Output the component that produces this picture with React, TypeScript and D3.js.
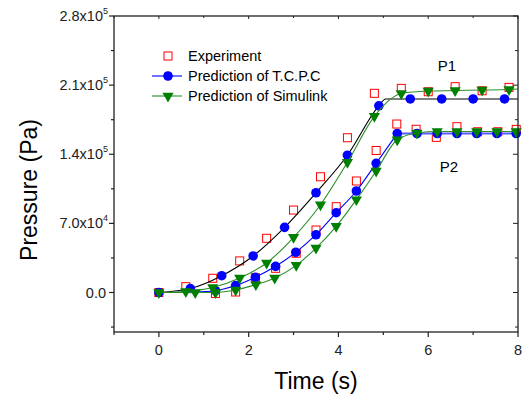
import React from "react";
import * as d3 from "d3";

// ---- data (pressure values in units of 1000 Pa) ----
const expP1T = [0, 0.6, 1.2, 1.8, 2.4, 3.0, 3.6, 4.2, 4.8, 5.4, 6.0, 6.6, 7.2, 7.8];
const expP1 = [0, 5.9, 14.4, 32, 54.9, 83.5, 117.2, 156.7, 201.7, 206.7, 203.3, 208.4, 204.3, 207.7];
const expP2T = [1.26, 1.71, 2.15, 2.6, 3.06, 3.5, 3.95, 4.4, 4.84, 5.3, 5.73, 6.18, 6.64, 7.1, 7.55, 7.96];
const expP2 = [-1, 0.5, 15, 24.5, 39.7, 63.3, 86.9, 112.9, 143.8, 170.6, 165.3, 157.1, 167.9, 162.8, 162.8, 165.2];

const tcpcP1T = [0, 0.7, 1.4, 2.1, 2.8, 3.5, 4.2, 4.9, 5.6, 6.3, 7.0, 7.7];
const tcpcP1 = [0, 4, 17, 37, 66, 101, 139, 189, 196, 196, 196, 196];
const tcpcP1LineT = [0, 0.7, 1.4, 2.1, 2.8, 3.5, 4.2, 4.9, 5.05, 8];
const tcpcP1Line = [0, 4, 17, 37, 66, 101, 139, 189, 196, 196];

const tcpcP2T = [1.26, 1.71, 2.15, 2.6, 3.05, 3.5, 3.95, 4.4, 4.84, 5.31, 5.75, 6.2, 6.64, 7.08, 7.53, 7.96];
const tcpcP2 = [1.8, 7, 15.4, 26.5, 40.7, 58.5, 80.8, 102.8, 130.8, 161, 161, 161, 161, 161, 161, 161];
const tcpcP2LineT = [0, 0.8, 1.26, 1.71, 2.15, 2.6, 3.05, 3.5, 3.95, 4.4, 4.84, 5.31];
const tcpcP2Line = [0, 0.5, 1.8, 7, 15.4, 26.5, 40.7, 58.5, 80.8, 102.8, 130.8, 161];
const tcpcP2PlateauT = [5.31, 8];
const tcpcP2Plateau = [161, 161];

const simP1T = [0, 0.6, 1.2, 1.8, 2.4, 3.0, 3.6, 4.2, 4.8, 5.4, 6.0, 6.6, 7.2, 7.8];
const simP1 = [0, 1, 5, 14.7, 29.9, 55.9, 88.9, 131.8, 178.4, 201.5, 204, 204.5, 205, 205.5];
const simP1LineT = [...simP1T, 8];
const simP1Line = [...simP1, 206];

const simP2T = [0.81, 1.26, 1.71, 2.16, 2.58, 3.06, 3.5, 3.95, 4.4, 4.84, 5.31, 5.75, 6.2, 6.64, 7.08, 7.53, 7.96];
const simP2 = [0, 0, 2.5, 8, 14.7, 27.5, 45, 67, 94, 123, 154.7, 161.5, 163, 163, 163, 163, 163];
const simP2LineT = [0, ...simP2T, 8];
const simP2Line = [0, ...simP2, 163];

const xMajor = [0, 2, 4, 6, 8];
const xMinor = [-1, 1, 3, 5, 7];
const yMajor = [0, 70000, 140000, 210000, 280000];
const yMinor = [-35000, 35000, 105000, 175000, 245000];
const yMant = ["0.0", "7.0", "1.4", "2.1", "2.8"];
const yExp = ["", "4", "5", "5", "5"];

const legendLabels = ["Experiment", "Prediction of T.C.P.C", "Prediction of Simulink"];

const FONT = "'Liberation Sans', Arial, sans-serif";
const RED = "#ff0000";
const BLUE = "#0000ff";
const GREEN = "#008000";
const GREENLINE = "#2a8f2a";

export default function App() {
  const L = 114, R = 518, T = 16, B = 332;
  const x = d3.scaleLinear().domain([-1, 8]).range([L, R]);
  const y = d3.scaleLinear().domain([-40000, 280000]).range([B, T]);
  const pts = (ts: number[], vs: number[]) => ts.map((t, i) => [t, vs[i] * 1000] as [number, number]);
  const line = d3
    .line<[number, number]>()
    .x((d) => x(d[0]))
    .y((d) => y(d[1]))
    .curve(d3.curveMonotoneX);
  const tri = d3.symbol().type(d3.symbolTriangle).size(54)() as string;

  const squares = (ts: number[], vs: number[], k: string) =>
    pts(ts, vs).map((d, i) => (
      <rect key={k + i} x={x(d[0]) - 4} y={y(d[1]) - 4} width={8} height={8} fill="none" stroke={RED} strokeWidth={1} />
    ));
  const circles = (ts: number[], vs: number[], k: string) =>
    pts(ts, vs).map((d, i) => <circle key={k + i} cx={x(d[0])} cy={y(d[1])} r={4.8} fill={BLUE} />);
  const tris = (ts: number[], vs: number[], k: string) =>
    pts(ts, vs).map((d, i) => (
      <path key={k + i} d={tri} transform={`translate(${x(d[0])},${y(d[1])}) rotate(180)`} fill={GREEN} />
    ));

  return (
    <svg width={525} height={395} style={{ position: "absolute", left: 0, top: 0, background: "#fff" }} fontFamily={FONT}>
      <rect x={0} y={0} width={525} height={395} fill="#fff" />
      {/* experiment squares */}
      {squares(expP1T, expP1, "e1")}
      {squares(expP2T, expP2, "e2")}
      {/* TCPC */}
      <path d={line(pts(tcpcP1LineT, tcpcP1Line)) as string} fill="none" stroke="#000" strokeWidth={1.1} />
      <path d={line(pts(tcpcP2LineT, tcpcP2Line)) as string} fill="none" stroke={BLUE} strokeWidth={1.1} />
      <path d={line(pts(tcpcP2PlateauT, tcpcP2Plateau)) as string} fill="none" stroke="#5a5aff" strokeWidth={2} />
      {circles(tcpcP1T, tcpcP1, "c1")}
      {circles(tcpcP2T, tcpcP2, "c2")}
      {/* Simulink */}
      <path d={line(pts(simP1LineT, simP1Line)) as string} fill="none" stroke={GREENLINE} strokeWidth={1.1} />
      <path d={line(pts(simP2LineT, simP2Line)) as string} fill="none" stroke={GREENLINE} strokeWidth={1.1} />
      {tris(simP1T, simP1, "s1")}
      {tris(simP2T, simP2, "s2")}

      {/* frame */}
      <rect x={L} y={T} width={R - L} height={B - T} fill="none" stroke="#222" strokeWidth={1.3} />
      {xMajor.map((v) => (
        <line key={"xb" + v} x1={x(v)} x2={x(v)} y1={B} y2={B + 5} stroke="#222" strokeWidth={1.2} />
      ))}
      {xMinor.map((v) => (
        <line key={"xbm" + v} x1={x(v)} x2={x(v)} y1={B} y2={B + 3} stroke="#222" strokeWidth={1.2} />
      ))}
      {xMajor.map((v) => (
        <line key={"xt" + v} x1={x(v)} x2={x(v)} y1={T} y2={T + 3} stroke="#222" strokeWidth={1} />
      ))}
      {xMinor.map((v) => (
        <line key={"xtm" + v} x1={x(v)} x2={x(v)} y1={T} y2={T + 2} stroke="#222" strokeWidth={1} />
      ))}
      {yMajor.map((v) => (
        <line key={"yl" + v} x1={L - 5} x2={L} y1={y(v)} y2={y(v)} stroke="#222" strokeWidth={1.2} />
      ))}
      {yMinor.map((v) => (
        <line key={"ylm" + v} x1={L - 3} x2={L} y1={y(v)} y2={y(v)} stroke="#222" strokeWidth={1.2} />
      ))}
      {yMajor.map((v) => (
        <line key={"yr" + v} x1={R - 5} x2={R} y1={y(v)} y2={y(v)} stroke="#222" strokeWidth={1} />
      ))}
      {yMinor.map((v) => (
        <line key={"yrm" + v} x1={R - 3} x2={R} y1={y(v)} y2={y(v)} stroke="#222" strokeWidth={1} />
      ))}

      {/* x tick labels */}
      {xMajor.map((v) => (
        <text key={"xl" + v} x={x(v)} y={355} fontSize={14.5} textAnchor="middle" fill="#222">
          {v}
        </text>
      ))}
      {/* y tick labels */}
      {yMajor.map((v, i) => (
        <text key={"ylab" + v} x={yExp[i] ? 108 : 106} y={y(v) + 5} fontSize={14.5} textAnchor="end" fill="#222">
          {yMant[i]}
          {yExp[i] ? "x10" : ""}
          {yExp[i] ? (
            <tspan fontSize={9} dy={-7}>
              {yExp[i]}
            </tspan>
          ) : null}
        </text>
      ))}

      {/* axis titles */}
      <text x={316} y={389} fontSize={23} textAnchor="middle" fill="#000">
        Time (s)
      </text>
      <text transform="translate(37,190) rotate(-90)" fontSize={23} textAnchor="middle" fill="#000">
        Pressure (Pa)
      </text>

      {/* P labels */}
      <text x={447} y={71} fontSize={15} textAnchor="middle" fill="#000">
        P1
      </text>
      <text x={449} y={172} fontSize={15} textAnchor="middle" fill="#000">
        P2
      </text>

      {/* legend */}
      <rect x={164} y={52} width={8} height={8} fill="none" stroke={RED} strokeWidth={1} />
      <line x1={152} x2={182} y1={76} y2={76} stroke={BLUE} strokeWidth={1.1} />
      <circle cx={168} cy={76} r={4.8} fill={BLUE} />
      <line x1={152} x2={182} y1={96} y2={96} stroke={GREENLINE} strokeWidth={1.1} />
      <path d={tri} transform="translate(168,96) rotate(180)" fill={GREEN} />
      {legendLabels.map((s, i) => (
        <text key={s} x={188} y={61 + i * 20} fontSize={14.5} fill="#000">
          {s}
        </text>
      ))}
    </svg>
  );
}
